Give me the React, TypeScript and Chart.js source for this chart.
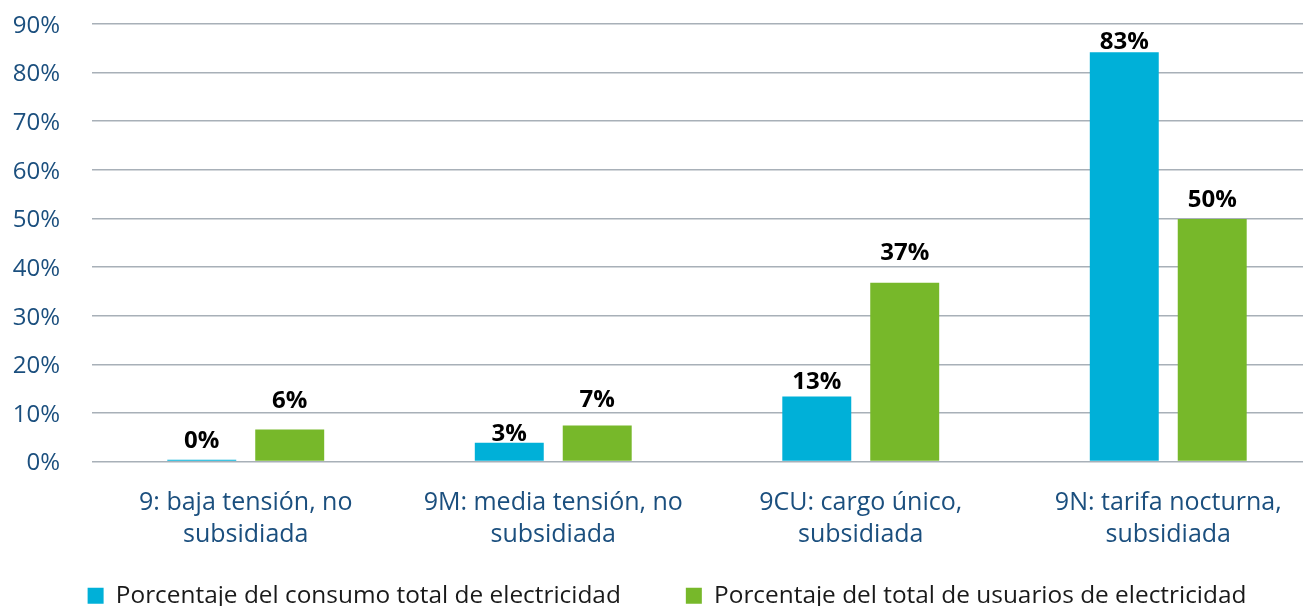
import React, { useEffect, useRef } from "react";
import { Chart, registerables } from "chart.js";

Chart.register(...registerables);

const categories: string[][] = [
  ["9: baja tensión, no", "subsidiada"],
  ["9M: media tensión, no", "subsidiada"],
  ["9CU: cargo único,", "subsidiada"],
  ["9N: tarifa nocturna,", "subsidiada"],
];
const seriesNames = [
  "Porcentaje del consumo total de electricidad",
  "Porcentaje del total de usuarios de electricidad",
];
const consumo = [0.4, 3.9, 13.4, 84.2];
const usuarios = [6.6, 7.4, 36.8, 49.9];
const consumoLabels = ["0%", "3%", "13%", "83%"];
const usuariosLabels = ["6%", "7%", "37%", "50%"];
const yTicks = [0, 10, 20, 30, 40, 50, 60, 70, 80, 90];

// styling: gap (px) between label centre and bar top
const consumoLabelGap = [20, 10.5, 16, 12];
const usuariosLabelGap = [30, 27.5, 31, 20.5];
// styling: upward shift (px) of the legend row
const LEGEND_SHIFT = 30;

const BLUE = "#00b0d8";
const GREEN = "#77b82a";
const AXIS_TEXT = "#1b4f7e";
const FONT = "'Open Sans', 'Noto Sans', sans-serif";

const valueLabelPlugin = {
  id: "valueLabels",
  afterDatasetsDraw(chart: any) {
    const ctx = chart.ctx;
    ctx.save();
    ctx.font = `bold 24px ${FONT}`;
    ctx.fillStyle = "#000";
    ctx.textAlign = "center";
    ctx.textBaseline = "alphabetic";
    const labelSets = [consumoLabels, usuariosLabels];
    const gapSets = [consumoLabelGap, usuariosLabelGap];
    chart.data.datasets.forEach((_: any, di: number) => {
      const meta = chart.getDatasetMeta(di);
      meta.data.forEach((bar: any, i: number) => {
        const centre = bar.y - gapSets[di][i];
        ctx.fillText(labelSets[di][i], bar.x, centre + 8.5);
      });
    });
    ctx.restore();
  },
};

const legendShiftPlugin = {
  id: "legendShift",
  beforeUpdate(chart: any) {
    const legend = chart.legend;
    if (!legend || legend.__shifted) return;
    legend.__shifted = true;
    const origDraw = legend.draw;
    legend.draw = function (...args: any[]) {
      this.top -= LEGEND_SHIFT;
      this.bottom -= LEGEND_SHIFT;
      origDraw.apply(this, args);
      this.top += LEGEND_SHIFT;
      this.bottom += LEGEND_SHIFT;
    };
  },
};

export default function App() {
  const ref = useRef<HTMLCanvasElement | null>(null);
  useEffect(() => {
    document.body.style.margin = "0";
    document.body.style.overflow = "hidden";
    document.documentElement.style.overflow = "hidden";
    if (!ref.current) return;
    const chart = new Chart(ref.current, {
      type: "bar",
      data: {
        labels: categories,
        datasets: [
          {
            label: seriesNames[0],
            data: consumo,
            backgroundColor: BLUE,
            categoryPercentage: 0.572,
            barPercentage: 0.784,
          },
          {
            label: seriesNames[1],
            data: usuarios,
            backgroundColor: GREEN,
            categoryPercentage: 0.572,
            barPercentage: 0.784,
          },
        ],
      },
      options: {
        animation: false,
        responsive: true,
        maintainAspectRatio: false,
        layout: { padding: { left: 12, right: 0, top: 24, bottom: 0 } },
        scales: {
          x: {
            grid: { display: false, drawTicks: false },
            border: { display: false },
            ticks: {
              color: AXIS_TEXT,
              font: { family: FONT, size: 25, lineHeight: 1.28 },
              padding: 25,
              maxRotation: 0,
              autoSkip: false,
            },
            afterFit: (scale: any) => {
              scale.height = 87;
            },
          },
          y: {
            min: 0,
            max: 90,
            afterBuildTicks: (axis: any) => {
              axis.ticks = yTicks.map((v) => ({ value: v }));
            },
            afterFit: (scale: any) => {
              scale.width = 80;
              scale.paddingTop = 0;
              scale.paddingBottom = 0;
            },
            grid: { color: "#a8b0b8", lineWidth: 1.6, drawTicks: false },
            border: { display: false },
            ticks: {
              color: AXIS_TEXT,
              font: { family: FONT, size: 24 },
              padding: 32,
              labelOffset: 2,
              callback: (v: any) => `${v}%`,
            },
          },
        },
        plugins: {
          legend: {
            position: "bottom",
            labels: {
              boxWidth: 16,
              boxHeight: 16,
              padding: 65,
              color: "#1a1a1a",
              font: { family: FONT, size: 24.4 },
            },
          },
          tooltip: { enabled: false },
        },
      },
      plugins: [valueLabelPlugin, legendShiftPlugin],
    });
    return () => chart.destroy();
  }, []);
  return (
    <div style={{ width: 1322, height: 648, position: "relative" }}>
      <canvas ref={ref} />
    </div>
  );
}
